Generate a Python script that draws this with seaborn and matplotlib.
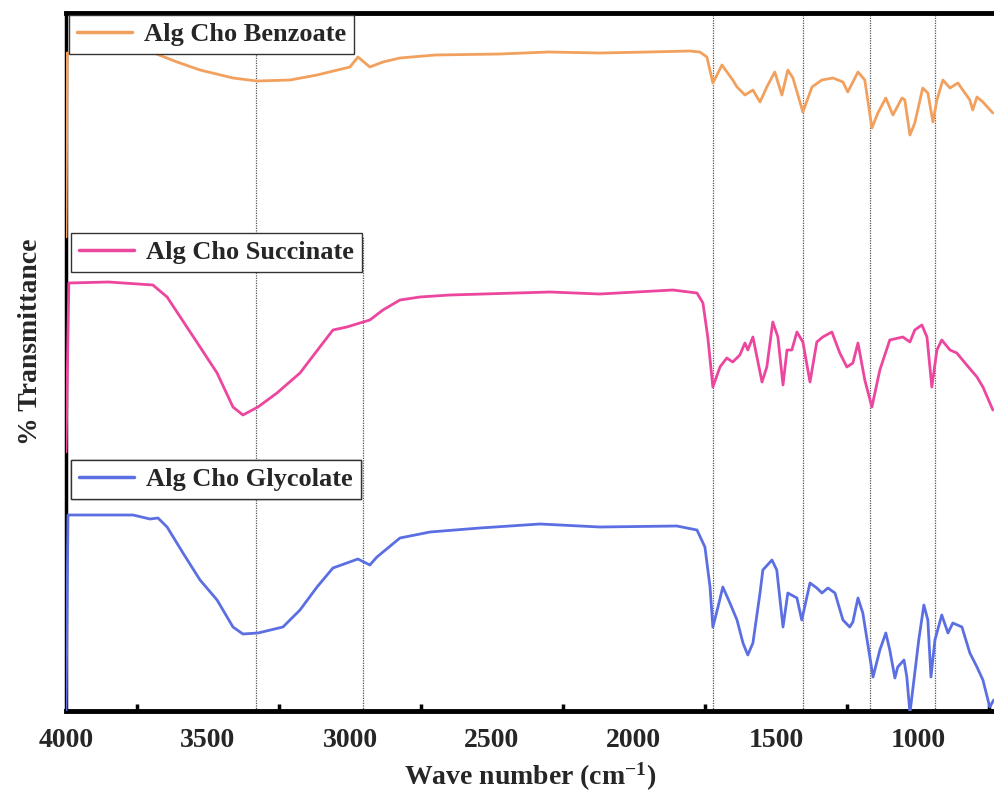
import matplotlib
matplotlib.use("Agg")
import matplotlib.pyplot as plt
import seaborn as sns
import pandas as pd
from matplotlib.ticker import FixedLocator
from matplotlib.lines import Line2D

# ---------------- data (wavenumber, offset transmittance in a.u.) ----------------
benzoate_wn = [4000, 3996, 3850, 3690, 3609, 3528, 3412, 3327, 3211, 3116, 3000, 2972, 2930, 2884,
               2824, 2700, 2472, 2300, 2120, 1950, 1803, 1768, 1743, 1722, 1690, 1652, 1637, 1609,
               1581, 1556, 1532, 1504, 1479, 1458, 1440, 1405, 1373, 1338, 1299, 1264, 1247, 1211,
               1187, 1162, 1141, 1113, 1088, 1056, 1046, 1028, 1011, 983, 965, 947, 933, 912, 887,
               859, 842, 817, 807, 792, 771, 736]
benzoate_t = [474, 658, 659, 658, 649, 641, 633, 630, 631, 636, 644, 654, 644, 649,
              653, 656, 657, 659, 658, 659, 660, 659, 654, 628, 646, 631, 624, 616,
              621, 609, 624, 639, 616, 641, 633, 599, 624, 631, 633, 629, 619, 639,
              631, 583, 598, 613, 596, 613, 611, 576, 588, 623, 618, 589, 611, 631, 623,
              628, 621, 611, 601, 614, 609, 598]

succinate_wn = [4000, 3990, 3850, 3694, 3644, 3528, 3468, 3412, 3377, 3324, 3257, 3176, 3106, 3060,
                3011, 2965, 2930, 2884, 2824, 2754, 2648, 2296, 2120, 1863, 1778, 1757, 1740, 1722,
                1697, 1673, 1652, 1627, 1609, 1599, 1581, 1549, 1532, 1511, 1493, 1475, 1461, 1444,
                1426, 1405, 1380, 1356, 1335, 1303, 1275, 1250, 1229, 1211, 1187, 1162, 1134, 1099,
                1053, 1028, 1011, 986, 968, 951, 933, 916, 887, 863, 828, 792, 771, 736]
succinate_t = [259, 428, 429, 426, 414, 364, 338, 304, 296, 304, 318, 338, 364, 381,
               384, 388, 391, 401, 411, 414, 416, 419, 417, 421, 418, 408, 374, 324,
               344, 353, 349, 356, 368, 361, 374, 329, 344, 389, 374, 326, 361, 361,
               379, 369, 329, 369, 374, 379, 358, 344, 348, 368, 331, 304, 341, 371,
               374, 369, 381, 386, 374, 324, 361, 371, 361, 358, 346, 334, 324, 301]

glycolate_wn = [4000, 3993, 3880, 3764, 3704, 3676, 3644, 3588, 3528, 3468, 3412, 3377, 3324, 3236,
                3176, 3116, 3060, 3011, 2972, 2930, 2905, 2824, 2718, 2542, 2331, 2120, 1849, 1778,
                1750, 1732, 1722, 1704, 1687, 1662, 1637, 1616, 1599, 1581, 1556, 1546, 1514, 1497,
                1475, 1458, 1426, 1409, 1380, 1356, 1338, 1317, 1292, 1264, 1240, 1229, 1211, 1194,
                1158, 1134, 1113, 1099, 1081, 1071, 1049, 1039, 1028, 1011, 997, 979, 965, 954,
                940, 916, 894, 877, 845, 817, 792, 771, 747, 733]
glycolate_t = [0, 196, 196, 196, 192, 193, 184, 158, 131, 111, 84, 77, 78, 84,
               101, 124, 143, 148, 152, 146, 154, 173, 179, 183, 187, 184, 185, 181,
               164, 124, 84, 104, 124, 108, 91, 68, 56, 68, 118, 141, 151, 141,
               84, 118, 113, 91, 128, 123, 118, 123, 118, 91, 84, 89, 113, 98,
               34, 61, 78, 61, 33, 44, 51, 34, -2, 38, 71, 106, 91, 34,
               71, 96, 78, 88, 84, 58, 44, 31, 4, 11]

series_names = ["Alg Cho Benzoate", "Alg Cho Succinate", "Alg Cho Glycolate"]
series_colors = ["#F2A05E", "#EC469E", "#5B6FE3"]
marker_lines = [3330, 2955, 1723, 1404, 1169, 940]
minor_ticks = [3750, 3250, 2750, 2250, 1750, 1250, 750]
major_ticks = [4000, 3500, 3000, 2500, 2000, 1500, 1000]

# ---------------- figure ----------------
sns.set_style("white")
plt.rcParams['font.family'] = ['Liberation Serif', 'DejaVu Serif']
plt.rcParams['font.weight'] = 'bold'
plt.rcParams['mathtext.fontset'] = 'custom'
plt.rcParams['mathtext.rm'] = 'Liberation Serif:bold'
plt.rcParams['mathtext.bf'] = 'Liberation Serif:bold'
plt.rcParams['mathtext.default'] = 'bf'

fig = plt.figure(figsize=(9.94, 7.94), dpi=100)
ax = fig.add_axes([66 / 994, 83 / 794, 1 - 66 / 994, 698 / 794])

# reference lines
for wn in marker_lines:
    ymax = 0.68 if wn == 2955 else 1.0
    ax.axvline(wn, ymin=0, ymax=ymax, color="#555555", lw=0.9, ls=(0, (1, 1)), zorder=1)

data = [(benzoate_wn, benzoate_t), (succinate_wn, succinate_t), (glycolate_wn, glycolate_t)]
for (wn, t), name, col in zip(data, series_names, series_colors):
    df = pd.DataFrame({"wn": wn, "t": t})
    sns.lineplot(data=df, x="wn", y="t", ax=ax, color=col, lw=2.0, estimator=None,
                 sort=False, zorder=3, legend=False, solid_joinstyle='round')

ax.set_xlim(4000, 732)
ax.set_ylim(0, 698)

# spines
ax.spines['right'].set_visible(False)
ax.spines['top'].set_linewidth(3.5)
ax.spines['bottom'].set_linewidth(3.5)
ax.spines['left'].set_linewidth(2.5)
for s in ['top', 'bottom', 'left']:
    ax.spines[s].set_color('black')
    ax.spines[s].set_zorder(2)

ax.set_yticks([])
ax.xaxis.set_major_locator(FixedLocator(major_ticks))
ax.xaxis.set_minor_locator(FixedLocator(minor_ticks))
ax.tick_params(axis='x', which='major', length=0, pad=12, labelsize=20)
ax.tick_params(axis='x', which='minor', direction='in', length=5, width=2.5, color='black',
               bottom=True)
for lab in ax.get_xticklabels():
    lab.set_fontweight('bold')

ax.set_xlabel("Wave number (cm$^{-1}$)", fontsize=20, fontweight='bold', labelpad=6)
ax.set_ylabel("% Transmittance", fontsize=20, fontweight='bold')
ax.yaxis.set_label_coords(-0.025, 0.529)

# legends
anchors = [((69 - 66) / 928, (711 - 15) / 698),
           ((71 - 66) / 928, (711 - 233) / 698),
           ((71 - 66) / 928, (711 - 460) / 698)]
for name, col, anc in zip(series_names, series_colors, anchors):
    h = Line2D([], [], color=col, lw=2.5)
    leg = ax.legend([h], [name], loc='upper left', bbox_to_anchor=anc, borderaxespad=0,
                    fancybox=False, framealpha=1, edgecolor='#333333', handlelength=2.1,
                    handletextpad=0.45, borderpad=0.3,
                    prop={'family': 'Liberation Serif', 'weight': 'bold', 'size': 19})
    leg.get_frame().set_linewidth(1.0)
    leg.set_zorder(5)
    ax.add_artist(leg)

fig.savefig("out.png", dpi=100)
